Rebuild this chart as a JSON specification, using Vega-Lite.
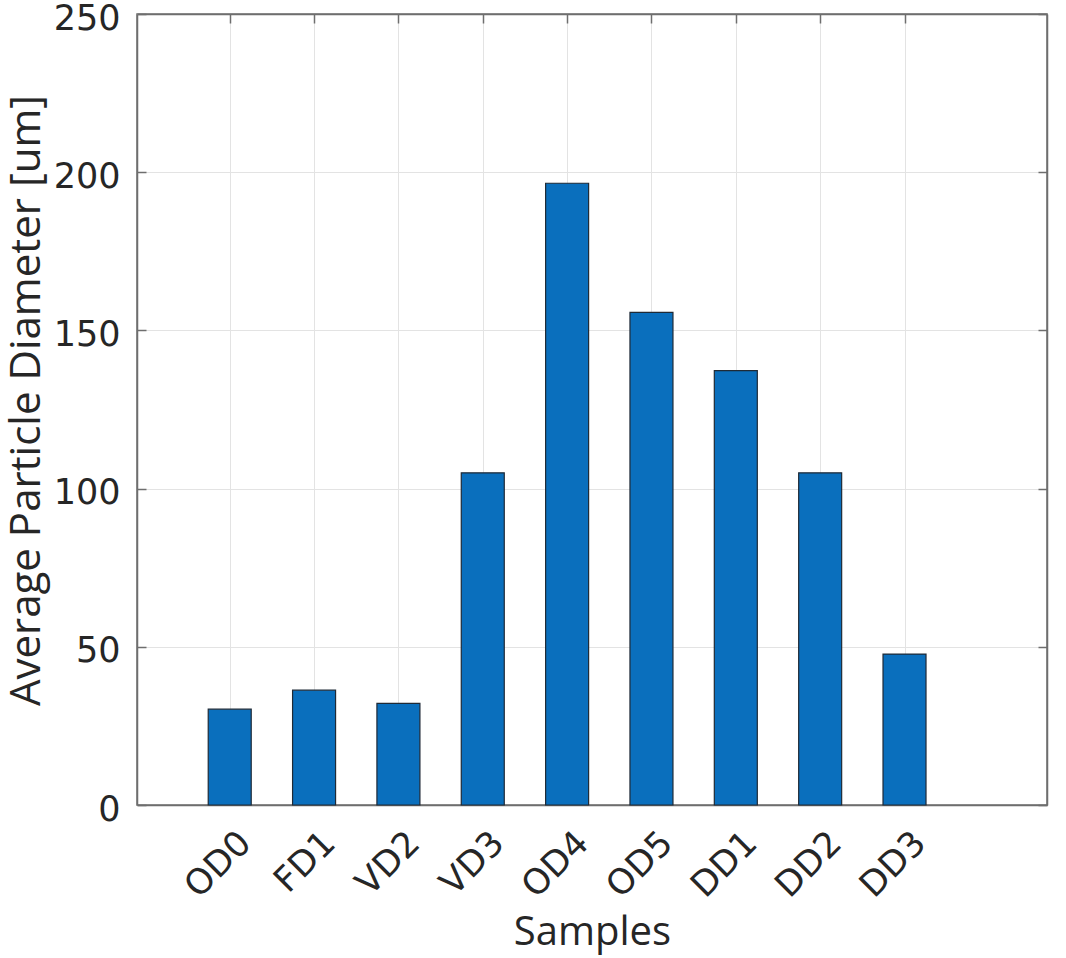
{
  "$schema": "https://vega.github.io/schema/vega-lite/v6.json",
  "autosize": {"type": "none"},
  "width": 910,
  "height": 791,
  "padding": {"left": 137, "top": 14, "right": 19, "bottom": 153},
  "background": "white",
  "config": {
    "view": {"stroke": "#6e6e6e", "strokeWidth": 1.5},
    "axis": {
      "labelFont": "DejaVu Sans",
      "labelColor": "#262626",
      "titleFont": "Open Sans",
      "titleColor": "#262626",
      "titleFontWeight": "normal",
      "domainColor": "#6e6e6e",
      "domainWidth": 1.5,
      "tickColor": "#6e6e6e",
      "tickWidth": 1.5,
      "tickSize": -9,
      "gridColor": "#e3e3e3",
      "gridWidth": 1
    }
  },
  "data": {
    "values": [
      {"idx": 1, "sample": "OD0", "diameter": 30.3},
      {"idx": 2, "sample": "FD1", "diameter": 36.3},
      {"idx": 3, "sample": "VD2", "diameter": 32.1},
      {"idx": 4, "sample": "VD3", "diameter": 105.0},
      {"idx": 5, "sample": "OD4", "diameter": 196.5},
      {"idx": 6, "sample": "OD5", "diameter": 155.7},
      {"idx": 7, "sample": "DD1", "diameter": 137.3},
      {"idx": 8, "sample": "DD2", "diameter": 105.0},
      {"idx": 9, "sample": "DD3", "diameter": 47.7}
    ]
  },
  "layer": [
    {
      "mark": {"type": "bar", "size": 43, "color": "#0a6fbd", "stroke": "#1f2a36", "strokeWidth": 1.2},
      "encoding": {
        "x": {
          "field": "idx", "type": "quantitative",
          "scale": {"domain": [-0.04, 10.63], "nice": false, "zero": false},
          "axis": {
            "values": [1, 2, 3, 4, 5, 6, 7, 8, 9],
            "labelExpr": "['', 'OD0', 'FD1', 'VD2', 'VD3', 'OD4', 'OD5', 'DD1', 'DD2', 'DD3'][datum.value]",
            "labelAngle": -45,
            "labelAlign": "right",
            "labelBaseline": "middle",
            "labelFontSize": 35,
            "labelPadding": 41,
            "labelOffset": 15,
            "title": "Samples",
            "titleFontSize": 40,
            "titlePadding": 8,
            "grid": true
          }
        },
        "y": {
          "field": "diameter", "type": "quantitative",
          "scale": {"domain": [0, 250], "nice": false},
          "axis": {
            "values": [0, 50, 100, 150, 200, 250],
            "labelFontSize": 35,
            "labelPadding": 26,
            "labelOffset": 4,
            "title": "Average Particle Diameter [um]",
            "titleFontSize": 42,
            "titlePadding": 5,
            "titleY": 386,
            "grid": true
          }
        }
      }
    },
    {
      "mark": {"type": "bar", "size": 43, "opacity": 0},
      "encoding": {
        "x": {
          "field": "idx", "type": "quantitative",
          "scale": {"domain": [-0.04, 10.63], "nice": false, "zero": false},
          "axis": {"orient": "top", "values": [1, 2, 3, 4, 5, 6, 7, 8, 9], "labels": false, "title": null, "grid": false}
        },
        "y": {
          "field": "diameter", "type": "quantitative",
          "scale": {"domain": [0, 250], "nice": false},
          "axis": {"orient": "right", "values": [0, 50, 100, 150, 200, 250], "labels": false, "title": null, "grid": false}
        }
      }
    }
  ],
  "resolve": {"axis": {"x": "independent", "y": "independent"}}
}
